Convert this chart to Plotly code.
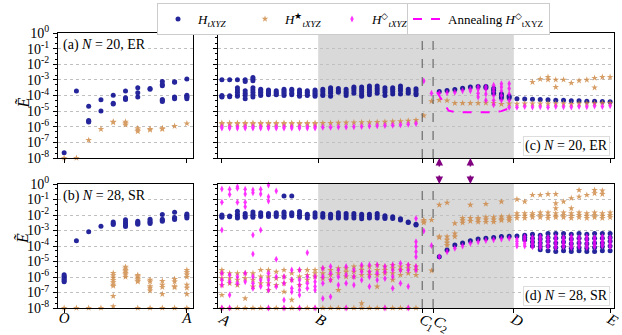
import plotly.graph_objects as go

# ---------------- data (log10 of E~) ----------------
# left panels: x index 0..10 (O .. A)
a_navy = [[-7.66], [-3.72], [-4.69, -5.6, -5.65, -5.7], [-4.28, -4.99], [-3.98, -4.5, -4.55],
          [-3.72, -4.15, -4.2, -4.26], [-3.5, -3.83, -4.1], [-3.55, -3.6],
          [-3.1, -3.3, -3.38, -4.25, -4.32, -4.39], [-3.12, -3.16, -4.1, -4.15, -4.2],
          [-2.95, -3.98, -4.05, -4.12, -4.2]]
a_orange = [[-8.0], [-8.0], [-6.86], [-6.15], [-5.68, -5.72], [-5.68, -5.78, -5.87],
            [-6.1, -6.2, -6.3], [-6.15, -6.2], [-6.1, -6.15], [-5.96], [-5.79]]

b_navy = [[-5.85, -5.95, -6.05, -6.15, -6.25, -6.3], [-3.66], [-3.08], [-2.73], [-2.45, -2.55, -2.62],
          [-0.92, -2.3, -2.45, -2.55, -2.65, -2.75], [-2.4, -2.48, -2.55, -2.6],
          [-2.28, -2.38, -2.46, -2.55], [-1.96, -2.27, -2.34, -2.41], [-1.83, -2.16, -2.22, -2.29],
          [-1.93, -2.02, -2.1, -2.2]]
b_orange = [[-8], [-8], [-8], [-8], [-5.74, -5.9, -6.05, -6.2, -6.35, -6.5, -6.58, -7.23, -7.9],
            [-5.35, -5.45, -5.55, -5.65, -5.75, -5.85, -6.0],
            [-5.87, -5.95, -6.05, -6.15, -6.25, -6.3, -8], [-6.19, -6.3, -6.6, -6.7, -6.88, -8],
            [-6.26, -6.5, -6.65, -7.1, -8], [-6.13, -6.3, -6.6, -6.67, -8],
            [-5.55, -5.7, -5.85, -6.0, -6.5, -6.7, -7.1, -8]]

# right panels: x index 0..50 (A .. E)
c_navy = [[-2.99, -4.0, -4.06, -4.1], [-2.99, -4.02, -4.08], [-2.99, -3.5, -3.65, -3.8, -3.95, -4.05],
          [-3.0, -3.1, -3.7, -3.85, -4.0, -4.2], [-2.85, -2.95, -3.05, -3.5, -3.65, -3.8, -3.95, -4.1],
          [-3.6, -3.7, -3.8, -3.9, -4.0], [-3.65, -3.75, -3.85, -3.95], [-3.7, -3.8, -3.9, -3.95],
          [-3.6, -3.7, -3.8, -3.9, -4.0], [-3.6, -3.7, -3.85, -3.95], [-3.65, -3.8, -3.9, -4.05],
          [-3.7, -3.8, -3.9, -4.0], [-3.65, -3.75, -3.85, -3.95, -4.05], [-3.6, -3.75, -3.9, -4.0],
          [-3.5, -3.6, -3.75, -3.85, -4.05], [-3.55, -3.7, -3.8], [-3.6, -3.75, -3.85, -4.0],
          [-3.45, -3.55, -3.7, -3.85], [-3.45, -3.6, -3.75, -3.9, -4.05], [-3.4, -3.5, -3.65, -3.8, -3.95],
          [-3.4, -3.55, -3.7, -3.85], [-3.5, -3.65, -3.8, -4.0], [-3.5, -3.6, -3.75, -3.9],
          [-3.4, -3.55, -3.7, -3.9], [-3.6, -3.75, -3.85], [-3.57, -3.7, -3.85, -3.95],
          [], [], [-3.74], [-3.68], [-3.62], [-3.53], [-3.46], [-3.42], [-3.42, -3.5],
          [-3.55, -3.7, -3.85], [-3.9, -4.0, -4.15], [-4.05, -4.15], [-4.2],
          [-4.22], [-4.24], [-4.26], [-4.28], [-4.3], [-4.31], [-4.33], [-4.34], [-4.36], [-4.37],
          [-4.38], [-4.4]]
c_orange = [[-5.76, -5.82]] * 13 + [
    [-5.77], [-5.76], [-5.75], [-5.74], [-5.73], [-5.72], [-5.71], [-5.7], [-5.69], [-5.67],
    [-5.65], [-5.62], [-5.58], [-5.29], [-4.37], [-4.3], [-4.32], [-4.49], [-4.49], [-4.49],
    [-4.49], [-4.47], [-4.49], [-4.55], [-4.52], [-4.53], [-4.52], [-4.52, -3.14], [-4.52, -2.95],
    [-4.52, -2.82, -2.99], [-4.52, -2.99, -3.46], [-4.52, -2.99], [-4.55, -3.2], [-4.52, -3.05],
    [-4.5, -3.0], [-4.5, -2.88, -3.5], [-4.48, -2.82], [-4.48, -2.82]]
c_magenta = [[-6.02, -6.08]] * 13 + [
    [-6.04], [-6.03], [-6.02], [-6.01], [-6.0], [-5.98], [-5.96], [-5.94], [-5.92], [-5.9],
    [-5.87], [-5.84], [-5.79], [-3.08], [-3.85], [-3.85], [-3.83], [-3.8], [-3.7], [-3.6, -3.7],
    [-3.45, -3.6, -3.85, -4.1], [-3.45, -3.6, -3.9, -4.3], [-3.35, -3.55, -3.75, -4.0, -4.3, -4.6],
    [-3.25, -3.45, -3.7, -4.0, -4.3], [-3.25, -3.55, -3.9, -4.3, -4.75], [-4.75],
    [-4.7], [-4.73], [-4.72], [-4.75], [-4.7], [-4.72], [-4.74], [-4.7], [-4.72], [-4.68], [-4.7],
    [-4.65]]
anneal_x = [27.7, 28.5, 29.2, 30, 31, 32, 33, 34, 35, 36, 37.1]
anneal_y = [-3.79, -4.43, -4.97, -5.06, -5.08, -5.08, -5.08, -5.07, -5.06, -5.0, -4.8]

d_navy = [[-2.0, -2.1, -2.15], [-2.06, -2.12], [-1.76, -1.95, -2.1, -2.2], [-1.9, -2.05, -2.15],
          [-1.8, -1.95, -2.05, -2.15], [-1.85, -2.0, -2.1], [-1.9, -2.0, -2.1], [-1.85, -1.95, -2.1],
          [-0.77, -1.8, -1.9, -2.05, -2.15], [-0.77, -1.85, -1.95, -2.05], [-1.78, -1.9, -2.05, -2.15],
          [-1.95, -2.05, -2.2], [-1.85, -2.0, -2.15], [-1.9, -2.05, -2.15], [-1.95, -2.1, -2.2],
          [-1.85, -2.0, -2.1, -2.2], [-1.9, -2.05, -2.2], [-1.9, -2.05, -2.2], [-1.95, -2.1, -2.25],
          [-1.95, -2.1, -2.2], [-1.9, -2.05, -2.2], [-2.05, -2.15, -2.22], [-2.12, -2.22],
          [-2.25, -2.32], [-2.45, -2.49], [-2.6, -2.65], [], [], [-4.69], [-4.26], [-3.94], [-3.8],
          [-3.66], [-3.55], [-3.5], [-3.45], [-3.39], [-3.37], [-3.35], [-3.3, -3.45, -3.6],
          [-3.25, -3.5, -3.75, -4.0], [-3.3, -3.55, -3.8, -4.05, -4.25], [-3.2, -3.45, -3.7, -4.0, -4.3],
          [-3.2, -3.5, -3.8, -4.1, -4.35], [-3.2, -3.45, -3.75, -4.05, -4.3],
          [-3.25, -3.55, -3.85, -4.15, -4.35], [-3.2, -3.5, -3.8, -4.1, -4.3],
          [-3.25, -3.55, -3.85, -4.15, -4.35], [-3.2, -3.5, -3.8, -4.1, -4.35],
          [-3.2, -3.5, -3.8, -4.05, -4.3], [-3.2, -3.45, -3.7, -4.0, -4.3]]
d_orange = [[-5.55, -5.76, -6.09, -6.52, -7.16, -8], [-5.76, -6.09, -6.41, -8], [-5.76, -6.19, -6.52, -8],
            [-5.76, -6.09, -7.38, -8], [-5.76, -6.19, -6.62, -8], [-5.55, -5.98, -6.41, -8],
            [-5.55, -5.98, -6.41, -6.84, -8], [-5.66, -6.09, -6.52, -8], [-5.55, -5.98, -6.41, -6.95, -8],
            [-5.76, -6.19, -7.48, -8], [-5.55, -5.98, -6.52, -8], [-5.55, -5.87, -6.19, -8],
            [-5.55, -5.76, -5.98, -8], [-5.44, -5.76, -6.09, -8], [-5.55, -5.87, -6.19, -8],
            [-5.44, -5.76, -6.84, -8], [-5.44, -5.66, -5.98, -8], [-5.33, -5.66, -5.98, -8],
            [-5.33, -5.55, -5.87, -7.7, -8], [-5.33, -5.66, -5.87, -8], [-5.23, -5.55, -5.87, -6.62, -8],
            [-5.33, -5.55, -5.76, -8], [-5.23, -5.44, -5.76, -6.19, -8], [-5.33, -5.55, -5.87, -8],
            [-5.23, -5.44, -5.76, -8], [-5.33, -5.55, -5.87, -8],
            [-2.32, -2.43, -2.5], [-2.32, -5.59], [-1.35, -3.4, -3.45], [-1.21, -3.4, -3.6, -3.8, -3.95],
            [-2.54, -3.2, -3.4], [-2.2, -2.35, -2.5], [-1.35, -2.2, -2.4], [-2.2, -2.3, -2.45],
            [-1.29, -2.15, -2.3, -2.45], [-2.15, -2.3, -2.45], [-1.14, -2.1, -2.25, -2.35],
            [-2.1, -2.2, -2.35], [-0.99, -1.9, -2.05, -2.2], [-1.14, -1.9, -2.05, -2.2],
            [-0.71, -1.9, -2.0, -2.15], [-0.71, -1.85, -2.0, -2.15], [-0.65, -1.85, -2.05, -2.2],
            [-0.65, -1.25, -1.57, -1.9, -2.05, -2.15], [-1.14, -1.85, -2.0, -2.15],
            [-0.92, -1.57, -1.9, -2.05, -2.2], [-0.39, -0.82, -1.85, -2.0, -2.15],
            [-0.71, -1.9, -2.05, -2.2], [-0.39, -0.6, -1.85, -2.0, -2.15],
            [-0.43, -0.65, -1.9, -2.05, -2.2], [-1.85, -2.0, -2.15]]
d_magenta = [[-0.32, -1.18, -2.97, -5.76, -6.19, -6.52, -8], [-0.34, -0.67, -5.87, -6.3, -7.16, -8],
             [-0.17, -0.28, -1.18, -5.98, -6.41], [-0.34, -0.65, -1.18, -1.46, -5.76, -6.3],
             [-0.39, -0.56, -3.29, -4.52, -5.98, -6.41, -6.73], [-0.34, -0.65, -2.97, -6.19, -6.62],
             [-0.065, -0.82, -1.1, -5.76, -6.19, -6.52, -6.84, -8], [-0.45, -4.86, -5.98, -6.62],
             [-5.98, -6.41, -7.48, -8], [-5.55, -6.19, -6.73, -6.95], [-5.55, -6.19, -6.52, -6.84, -7.16, -8],
             [-4.43, -5.98, -6.41, -6.73], [-5.98, -6.3, -6.62, -6.84, -8], [-5.44, -5.98, -6.41, -7.38],
             [-5.33, -5.76, -6.19, -7.27], [-5.55, -5.98, -6.52], [-5.33, -5.87, -6.41, -8],
             [-5.55, -5.98, -6.52], [-5.23, -5.66, -6.19], [-5.23, -5.66, -5.98, -6.62],
             [-5.23, -5.76, -6.19], [-5.33, -5.66, -6.09, -8], [-5.23, -5.55, -5.98, -6.73],
             [-5.12, -5.55, -6.41], [-5.23, -5.55, -6.62, -8],
             [-2.22, -3.72, -4.04, -4.37, -4.69, -5.33, -5.55], [-3.03], [-3.96], [-4.69], [-4.37],
             [-4.15], [-4.0], [-3.83], [-3.72], [-3.65], [-3.6], [-3.55], [-3.5],
             [-3.55, -3.7, -3.85, -4.0], [-3.4, -3.55, -3.7, -3.85, -4.0],
             [-3.45, -3.6, -3.75, -3.9, -4.05], [-3.4, -3.55, -3.7, -3.85, -4.0, -4.1],
             [-3.45, -3.6, -3.75, -3.9, -4.05], [-3.4, -3.55, -3.7, -3.85, -4.0, -4.1],
             [-3.45, -3.6, -3.75, -3.9, -4.05], [-3.4, -3.55, -3.7, -3.85, -4.0, -4.1],
             [-3.45, -3.6, -3.75, -3.9, -4.05], [-3.4, -3.55, -3.7, -3.85, -4.0, -4.1],
             [-3.45, -3.6, -3.75, -3.9, -4.05], [-3.4, -3.55, -3.7, -3.85, -4.0],
             [-3.45, -3.6, -3.75, -3.9, -4.05]]

left_tick_pos = [0, 10]
left_tick_text = ["<i>O</i>", "<i>A</i>"]
right_tick_pos = [0, 12.4, 25.8, 27.2, 37.6, 50]
NB = "\u00a0"
right_tick_text = ["<i>A</i>", "<i>B</i>", "<i>C</i><sub>1</sub>" + NB * 3, NB + "<i>C</i><sub>2</sub>",
                   "<i>D</i>", "<i>E</i>"]
shade_from, shade_to = 12.4, 37.6
dashed_at = [25.8, 27.2]
arrow_at = [28, 32]
y_decades = list(range(-8, 1))
panel_labels = ["(a) <i>N</i> = 20, ER", "(c) <i>N</i> = 20, ER", "(b) <i>N</i> = 28, SR", "(d) <i>N</i> = 28, SR"]

NAVY = "#00008b"
ORANGE = "#cd853f"
MAGENTA = "#ff00ff"
FONT = "Liberation Serif"

W, H = 622, 335
def px_x(p): return p / W
def px_y(p): return 1 - p / H

dom_xl = [px_x(58), px_x(193)]
dom_xr = [px_x(218), px_x(614)]
dom_yt = [px_y(158), px_y(33)]
dom_yb = [px_y(308), px_y(184)]

fig = go.Figure()

def flat(groups):
    xs, ys = [], []
    for i, g in enumerate(groups):
        for v in g:
            xs.append(i)
            ys.append(10 ** v)
    return xs, ys

series_style = {
    "navy": dict(symbol="circle", size=5, color=NAVY, op=0.85,
                 name="<i>H</i><sub><i>tXYZ</i></sub>"),
    "orange": dict(symbol="star", size=5, color=ORANGE, op=0.8,
                   name="<i>H</i><sup>★</sup><sub><i>tXYZ</i></sub>"),
    "magenta": dict(symbol="diamond-tall", size=5, color=MAGENTA, op=0.8,
                    name="<i>H</i><sup>◇</sup><sub><i>tXYZ</i></sub>"),
}

panels = [
    ("x", "y", {"navy": a_navy, "orange": a_orange}),
    ("x2", "y2", {"navy": c_navy, "orange": c_orange, "magenta": c_magenta}),
    ("x3", "y3", {"navy": b_navy, "orange": b_orange}),
    ("x4", "y4", {"navy": d_navy, "orange": d_orange, "magenta": d_magenta}),
]
shown = set()
for xa, ya, ser in panels:
    for key in ["navy", "orange", "magenta"]:
        if key not in ser:
            continue
        st = series_style[key]
        xs, ys = flat(ser[key])
        fig.add_trace(go.Scatter(
            x=xs, y=ys, xaxis=xa, yaxis=ya, mode="markers", name=st["name"],
            marker=dict(symbol=st["symbol"], size=st["size"], color=st["color"], line=dict(width=0)),
            opacity=st["op"], cliponaxis=False, showlegend=key not in shown, legend="legend"))
        shown.add(key)
    if xa == "x2":
        fig.add_trace(go.Scatter(
            x=anneal_x, y=[10 ** v for v in anneal_y], xaxis="x2", yaxis="y2", mode="lines",
            line=dict(color=MAGENTA, width=2, dash="dash"),
            name="Annealing <i>H</i><sup>◇</sup><sub>tXYZ</sub>", legend="legend2"))

axis_common = dict(showline=True, linecolor="black", linewidth=1, mirror=True, ticks="outside",
                   ticklen=4, tickcolor="black", zeroline=False, automargin=False,
                   tickfont=dict(family=FONT, size=14, color="black"))
yaxis_common = dict(axis_common, type="log", range=[-8, 0], tickvals=[10 ** d for d in y_decades],
                    showgrid=True, gridcolor="#c0c0c0", griddash="dot", gridwidth=1,
                    minor=dict(ticks="outside", ticklen=2, tickcolor="black", showgrid=False))

ylab = [f"10<sup>{d}</sup>" for d in y_decades]
xfont = dict(family=FONT, size=15, color="black")
fig.update_layout(
    width=W, height=H, margin=dict(l=0, r=0, t=0, b=0),
    plot_bgcolor="white", paper_bgcolor="white",
    font=dict(family=FONT, size=13, color="black"),
    xaxis=dict(axis_common, domain=dom_xl, anchor="y", range=[-0.5, 10.5], tickvals=left_tick_pos,
               showticklabels=False, showgrid=False),
    yaxis=dict(yaxis_common, domain=dom_yt, anchor="x", ticktext=ylab, ticklabelstandoff=1),
    xaxis2=dict(axis_common, domain=dom_xr, anchor="y2", range=[-0.5, 50.5], tickvals=right_tick_pos,
                showticklabels=False, showgrid=False),
    yaxis2=dict(yaxis_common, domain=dom_yt, anchor="x2", showticklabels=False),
    xaxis3=dict(axis_common, domain=dom_xl, anchor="y3", range=[-0.5, 10.5], tickvals=left_tick_pos,
                ticktext=left_tick_text, showgrid=False, tickfont=xfont, ticklabelstandoff=-8),
    yaxis3=dict(yaxis_common, domain=dom_yb, anchor="x3", ticktext=ylab, ticklabelstandoff=1),
    xaxis4=dict(axis_common, domain=dom_xr, anchor="y4", range=[-0.5, 50.5], tickvals=right_tick_pos,
                ticktext=right_tick_text, showgrid=False, tickfont=xfont, ticklabelstandoff=-8),
    yaxis4=dict(yaxis_common, domain=dom_yb, anchor="x4", showticklabels=False),
    legend=dict(orientation="h", x=px_x(157), y=px_y(3), xanchor="left", yanchor="top",
                bordercolor="#cccccc", borderwidth=1, bgcolor="white",
                entrywidth=42, entrywidthmode="pixels",
                font=dict(family=FONT, size=13)),
    legend2=dict(orientation="h", x=px_x(407), y=px_y(3), xanchor="left", yanchor="top",
                 bordercolor="#cccccc", borderwidth=1, bgcolor="white",
                 font=dict(family=FONT, size=13)),
)

shapes = []
for xa, ya in [("x2", "y2"), ("x4", "y4")]:
    shapes.append(dict(type="rect", xref=xa, yref=f"{ya} domain", x0=shade_from, x1=shade_to, y0=0, y1=1,
                       fillcolor="#d9d9d9", line=dict(width=0), layer="below"))
    for xv in dashed_at:
        shapes.append(dict(type="line", xref=xa, yref=f"{ya} domain", x0=xv, x1=xv, y0=0, y1=1,
                           line=dict(color="#555555", width=1, dash="dash")))
fig.update_layout(shapes=shapes)

ann = []
ann.append(dict(xref="x domain", yref="y domain", x=0.02, y=0.985, xanchor="left", yanchor="top",
                text=panel_labels[0], showarrow=False, bgcolor="white", font=dict(size=14)))
ann.append(dict(xref="x3 domain", yref="y3 domain", x=0.02, y=0.985, xanchor="left", yanchor="top",
                text=panel_labels[2], showarrow=False, bgcolor="white", font=dict(size=14)))
ann.append(dict(xref="x2 domain", yref="y2 domain", x=0.99, y=0.02, xanchor="right", yanchor="bottom",
                text=panel_labels[1], showarrow=False, bgcolor="white", bordercolor="#dddddd",
                font=dict(size=14)))
ann.append(dict(xref="x4 domain", yref="y4 domain", x=0.99, y=0.02, xanchor="right", yanchor="bottom",
                text=panel_labels[3], showarrow=False, bgcolor="white", bordercolor="#dddddd",
                font=dict(size=14)))
for yd in [dom_yt, dom_yb]:
    ann.append(dict(xref="paper", yref="paper", x=px_x(12), y=(yd[0] + yd[1]) / 2,
                    text="<i>Ẽ</i>", showarrow=False, textangle=-90, font=dict(size=16)))
for xv in arrow_at:
    ann.append(dict(xref="x2", yref="y2 domain", x=xv, y=0, ax=0, ay=10, text="", showarrow=True,
                    arrowcolor="#800080", arrowwidth=1.5, arrowhead=2, arrowsize=1))
    ann.append(dict(xref="x4", yref="y4 domain", x=xv, y=1, ax=0, ay=-10, text="", showarrow=True,
                    arrowcolor="#800080", arrowwidth=1.5, arrowhead=2, arrowsize=1))
fig.update_layout(annotations=ann)

fig.write_html("out.html", config={"displayModeBar": False},
               post_script="document.body.style.margin='0';")
